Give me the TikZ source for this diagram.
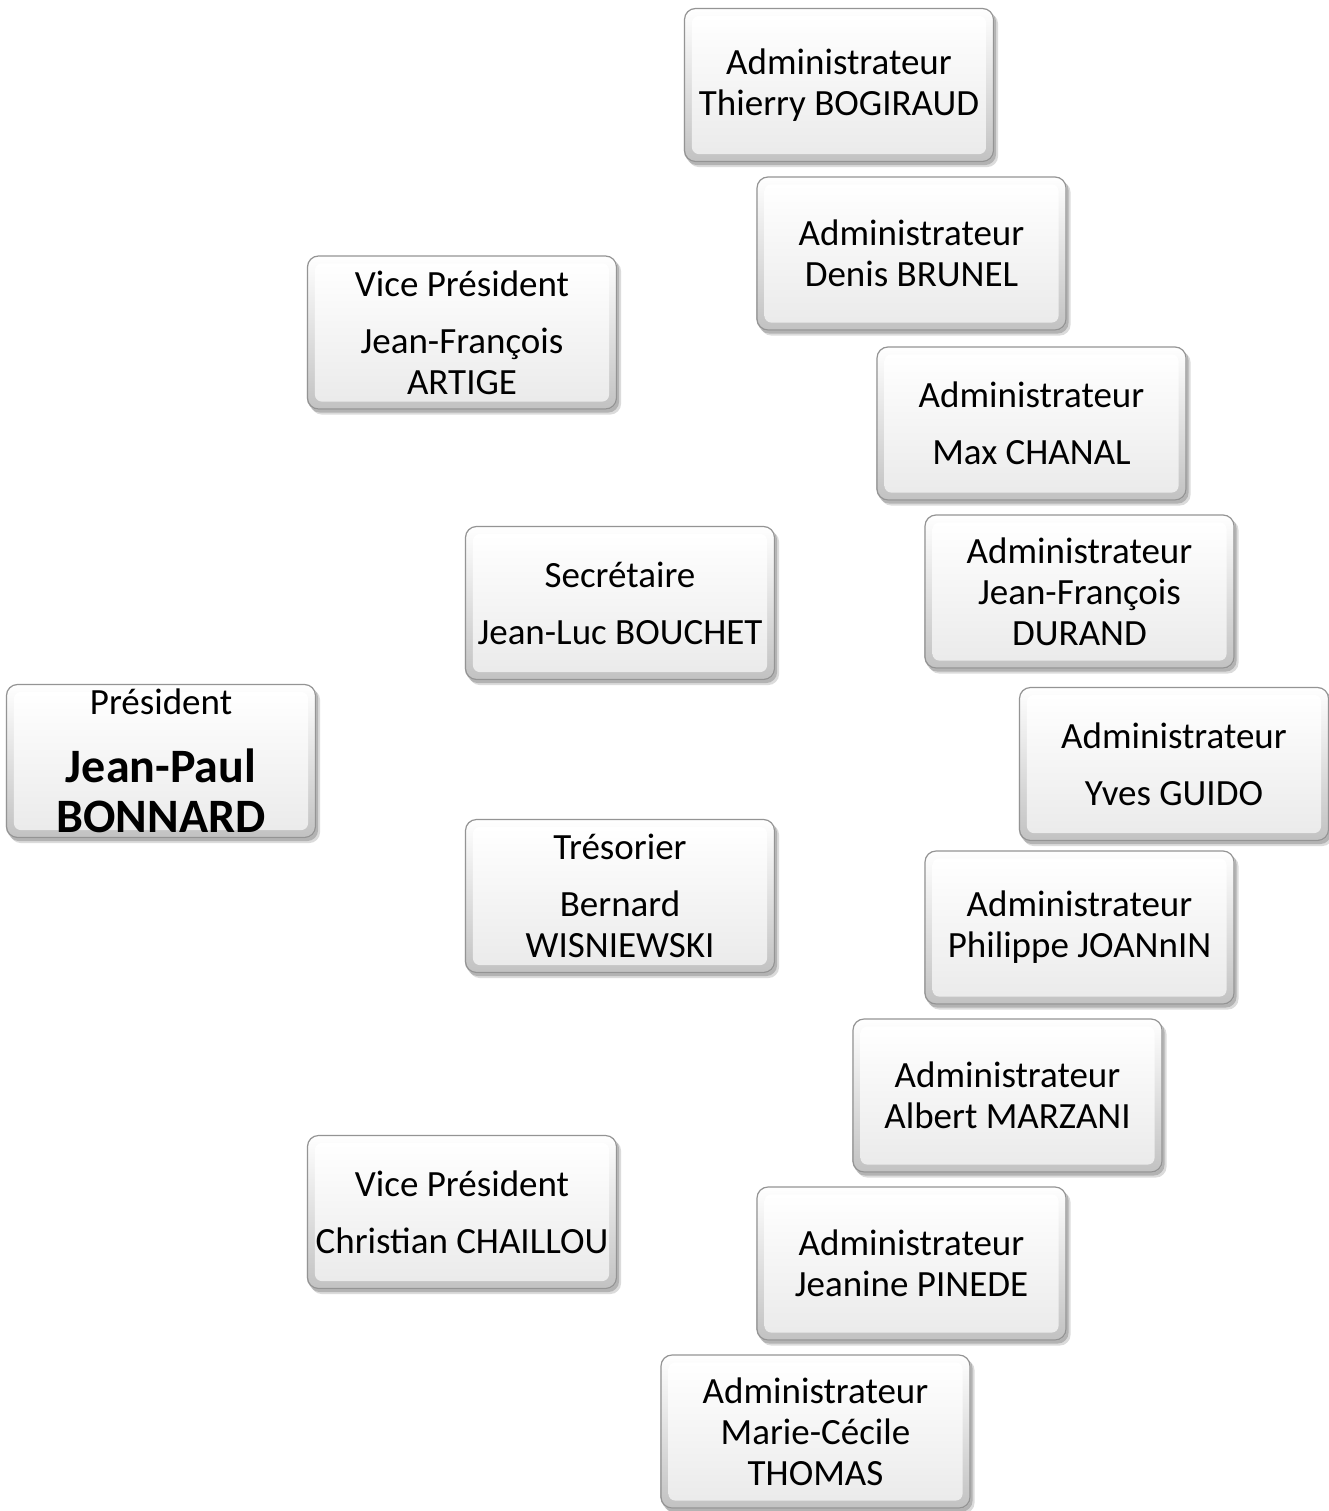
\documentclass[tikz,border=0pt]{standalone}
\usepackage{fontspec}
\setmainfont{Carlito}
\usetikzlibrary{backgrounds}
\newcommand{\bigname}{\fontsize{48}{51}\bfseries\selectfont}

\begin{document}
\begin{tikzpicture}[x=1pt, y=-1pt,
  card/.style={draw=black!42, line width=1.2pt, rounded corners=11pt,
               minimum width=309pt, minimum height=153pt, inner sep=0pt, align=center,
               font=\fontsize{37}{41}\selectfont},
  shadowed/.style={fill=black, opacity=#1, rounded corners=11pt},
  bevel/.style={rounded corners=7pt, top color=white, bottom color=black!8}]
\useasboundingbox (0,0) rectangle (1329,1511);
% bureau
\node[card] (bonnard) at (161,761) {Président\\[27pt]\bigname Jean-Paul\\[9pt]\bigname BONNARD};
\node[card] (artige) at (462,332.5) {Vice Président\\[16pt]Jean-François\\ARTIGE};
\node[card] (bouchet) at (620,603) {Secrétaire\\[16pt]Jean-Luc BOUCHET};
\node[card] (wisniewski) at (620,896) {Trésorier\\[16pt]Bernard\\WISNIEWSKI};
\node[card] (chaillou) at (462,1212) {Vice Président\\[16pt]Christian CHAILLOU};
% administrateurs
\node[card] (bogiraud) at (839,85) {Administrateur\\Thierry BOGIRAUD};
\node[card] (brunel) at (911.5,253.5) {Administrateur\\Denis BRUNEL};
\node[card] (chanal) at (1031.5,423.5) {Administrateur\\[16pt]Max CHANAL};
\node[card] (durand) at (1079.5,591.5) {Administrateur\\Jean-François\\DURAND};
\node[card] (guido) at (1174,764) {Administrateur\\[16pt]Yves GUIDO};
\node[card] (joannin) at (1079.5,927.5) {Administrateur\\Philippe JOANnIN};
\node[card] (marzani) at (1007.5,1095.5) {Administrateur\\Albert MARZANI};
\node[card] (pinede) at (911.5,1263.5) {Administrateur\\Jeanine PINEDE};
\node[card] (thomas) at (815.5,1431.5) {Administrateur\\Marie-Cécile\\THOMAS};
% shadow, rim and face of every card
\begin{scope}[on background layer]
\foreach \n in {bonnard,artige,bouchet,wisniewski,chaillou,bogiraud,brunel,chanal,durand,guido,joannin,marzani,pinede,thomas} {
  \fill[shadowed=0.18] ([shift={(2pt,-3pt)}]\n.north west) rectangle ([shift={(2pt,-3pt)}]\n.south east);
  \fill[shadowed=0.14] ([shift={(4pt,-5pt)}]\n.north west) rectangle ([shift={(4pt,-5pt)}]\n.south east);
  \shade[rounded corners=11pt, top color=white, bottom color=black!24] (\n.north west) rectangle (\n.south east);
  \shade[bevel] ([shift={(8pt,-8pt)}]\n.north west) rectangle ([shift={(-8pt,8pt)}]\n.south east);
}
\end{scope}
\end{tikzpicture}
\end{document}
